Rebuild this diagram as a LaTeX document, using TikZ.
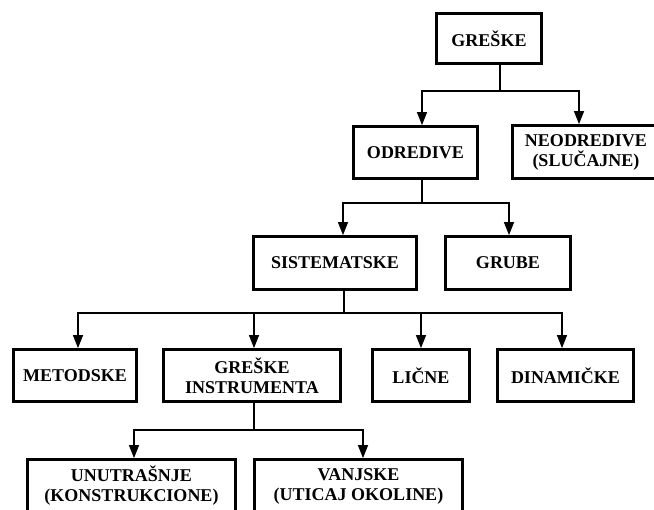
\documentclass[tikz,border=0pt]{standalone}
\usepackage{fontspec}
\setmainfont{Liberation Serif}
\usetikzlibrary{arrows.meta}
\begin{document}
\begin{tikzpicture}[x=1pt,y=-1pt,
  box/.style={draw, line width=2.8pt, rectangle, inner sep=0pt, align=center,
    font=\fontsize{18}{20}\selectfont\bfseries},
  conn/.style={line width=1.3pt},
  arr/.style={conn, -{Triangle[length=13pt,width=10pt]}}]
\useasboundingbox (0,0) rectangle (654,510);

% level 1
\node[box, minimum width=105pt, minimum height=50pt] (greske) at (489,38.5) {GREŠKE};
% level 2
\node[box, minimum width=124pt, minimum height=52pt] (odredive) at (415.5,152.5) {ODREDIVE};
\node[box, minimum width=147pt, minimum height=53pt] (neodredive) at (586,152) {NEODREDIVE\\(SLUČAJNE)};
% level 3
\node[box, minimum width=163pt, minimum height=53pt] (sistematske) at (335,263) {SISTEMATSKE};
\node[box, minimum width=125pt, minimum height=53pt] (grube) at (508,263) {GRUBE};
% level 4
\node[box, minimum width=123pt, minimum height=52pt] (metodske) at (75,375.5) {METODSKE};
\node[box, minimum width=177pt, minimum height=52pt] (instrumenta) at (252,375.5) {GREŠKE\\INSTRUMENTA};
\node[box, minimum width=97pt, minimum height=52pt] (licne) at (421,375.5) {LIČNE};
\node[box, minimum width=136pt, minimum height=52pt] (dinamicke) at (565.5,375.5) {DINAMIČKE};
% level 5
\node[box, minimum width=208pt, minimum height=53pt] (unutrasnje) at (131.5,486) {UNUTRAŠNJE\\(KONSTRUKCIONE)};
\node[box, minimum width=208pt, minimum height=53pt] (vanjske) at (358.5,486) {VANJSKE\\(UTICAJ OKOLINE)};

% connectors
\draw[conn] ([xshift=11pt]greske.south) -- ++(0,26) coordinate (j1);
\draw[arr] (j1) -| ([xshift=6.5pt]odredive.north);
\draw[arr] (j1) -| ([xshift=-7pt]neodredive.north);

\draw[conn] ([xshift=6.5pt]odredive.south) -- ++(0,23) coordinate (j2);
\draw[arr] (j2) -| ([xshift=8pt]sistematske.north);
\draw[arr] (j2) -| ([xshift=1pt]grube.north);

\draw[conn] ([xshift=9pt]sistematske.south) -- ++(0,22) coordinate (j3);
\draw[arr] (j3) -| ([xshift=3pt]metodske.north);
\draw[arr] (j3) -| ([xshift=2pt]instrumenta.north);
\draw[arr] (j3) -| (licne.north);
\draw[arr] (j3) -| ([xshift=-3.5pt]dinamicke.north);

\draw[conn] ([xshift=2pt]instrumenta.south) -- ++(0,27) coordinate (j4);
\draw[arr] (j4) -| ([xshift=2.5pt]unutrasnje.north);
\draw[arr] (j4) -| ([xshift=4.5pt]vanjske.north);
\end{tikzpicture}
\end{document}
